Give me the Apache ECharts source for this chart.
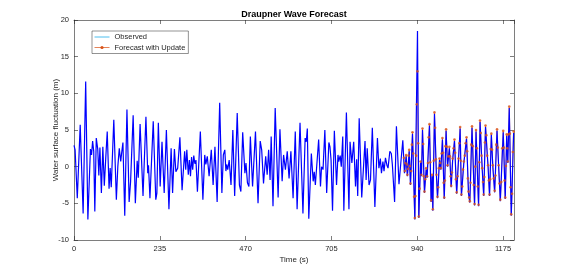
<!DOCTYPE html>
<html><head><meta charset="utf-8">
<script src="https://cdn.jsdelivr.net/npm/echarts@6/dist/echarts.min.js"></script>
<style>html,body{margin:0;padding:0;background:#fff}#c{width:568px;height:270px}</style>
</head><body><div id="c"></div>
<script>
// ---- data (time s, surface elevation m) ----
const titleText = 'Draupner Wave Forecast';
const xName = 'Time (s)';
const yName = 'Water surface fluctuation (m)';
const seriesNames = ['Observed', 'Forecast with Update'];
const xTickValues = [0, 235, 470, 705, 940, 1175];
const yTickValues = [-10, -5, 0, 5, 10, 15, 20];

const observed = [
[0,2.9],[3,2.3],[9,-4.3],[17,5.7],[25,-6.4],[32,11.6],[38,-7.2],[45,2.4],[48,1.6],[51,3.5],[54,2.1],[57,-6.1],[61,3.9],[65,2.4],[68,-1.2],[71,2.6],[75,-3.6],[79,2.7],[83,-2.6],[87,1.2],[91,4.8],[96,-3.0],[99,-0.2],[102,-2.8],[109,6.4],[116,-4.5],[120,0.0],[124,2.5],[128,0.7],[131,2.1],[134,3.3],[139,-6.7],[145,7.8],[151,-4.8],[155,-2.0],[162,7.0],[168,-5.0],[173,0.8],[176,-1.5],[181,5.8],[189,-4.0],[197,6.8],
[202,-0.9],[204,0.2],[208,-4.3],[217,6.2],[224,-4.5],[227,-3.6],[231,6.0],[236,-2.7],[241,3.4],[247,-3.6],[253,5.0],[260,-5.8],[266,2.5],[270,-3.6],[275,2.4],[279,-0.7],[284,-0.2],[290,4.0],[296,-3.2],[303,2.1],[306,-0.4],[309,2.3],[313,-1.1],[316,0.9],[319,-1.3],[322,1.3],[325,-0.4],[328,1.5],[331,0.4],[334,0.9],[338,-3.4],[346,4.8],[353,-4.5],[358,1.6],[361,0.3],[365,1.4],[370,-1.3],[376,2.3],[381,-2.5],[386,2.7],[392,-4.8],[399,8.7],[405,-3.6],
[409,1.6],[413,2.3],[416,-0.6],[418,0.3],[421,-0.4],[425,0.9],[430,-2.5],[435,5.0],[440,-4.0],[447,7.3],[453,-2.5],[457,-3.4],[462,4.7],[468,-0.9],[471,0.5],[475,-2.2],[479,-2.7],[483,4.1],[489,-2.7],[497,4.8],[504,-5.0],[510,3.5],[514,2.3],[519,-2.3],[525,1.4],[529,-1.1],[533,2.3],[537,-1.8],[540,4.1],[545,-5.4],[551,8.0],[559,-4.2],[564,5.1],[570,-2.0],[574,1.6],[579,-0.4],[584,2.1],[589,-1.6],[594,2.1],[600,-4.3],[606,4.8],
[611,-5.8],[619,6.0],[627,-6.4],[633,3.9],[636,3.4],[639,5.2],[643,-7.1],[650,1.8],[655,-2.0],[658,-0.7],[661,-2.5],[670,3.7],[675,-2.7],[678,0.0],[682,-0.4],[687,5.0],[692,-3.6],[698,3.3],[701,2.7],[704,0.9],[708,-6.0],[713,4.9],[719,-2.5],[723,1.6],[725,0.7],[729,1.5],[732,0.0],[736,4.1],[739,-6.0],[746,7.4],[753,-5.8],[756,3.4],[761,0.5],[766,3.4],[771,-2.7],[774,1.0],[777,-4.0],[781,6.6],[788,-4.2],[797,3.5],[800,-1.8],[803,2.5],[808,-2.5],
[812,-1.8],[817,5.3],[824,-5.5],[831,3.9],[835,-0.2],[839,1.1],[842,-0.9],[846,0.7],[849,-0.6],[853,1.2],[857,0.2],[860,-0.2],[865,2.1],[869,1.8],[872,0.2],[878,-4.8],[883,5.5],[890,-2.4],[895,0.5],[900.5,3.6],[905,-0.9],
[909.6,1.4],[913,-1.3],[918,2.1],[921.5,-2.5],[927,4.5],[933.4,-7.2],[940.7,18.5],[944.3,-7.0],[949,0.5],[951.6,-1.3],[954.4,5.0],[959.8,-3.6],[964.4,-0.4],[967,-1.5],[973.5,5.6],[978,-4.8],[980.8,-1.3],[982.7,-6.0],[987.2,7.2],[992.7,-1.3],[995.5,-4.3],[1001,0.9],[1004.6,-0.4],[1009,3.7],[1014,-4.4],[1019,4.9],[1023,0.0],[1028,2.5],[1033,-2.8],[1037,0.9],[1042,3.5],[1048,-3.7],[1053,0.9],[1057.5,5.2],[1061,-4.0],[1067.6,0.5],[1075,3.8],[1080.4,-3.6],[1084,-4.9],[1090,5.3],[1097,-5.3],[1101,4.8],[1108,-5.4],[1112,6.1],[1118,-0.4],[1122,-4.0],[1127,5.4],[1134,0.0],[1138,-4.0],[1143,4.3],[1147,0.0],[1152,-3.5],[1158.5,4.9],[1163,0.0],[1167.5,-4.7],[1175.5,4.7],[1181,-4.4],[1185,4.2],[1188,0.5],[1192,8.0],[1197.5,-6.7],[1204,4.6]
];

const forecast = [
[903.5,1.2],[906,-0.6],[907.8,0.5],[909.6,1.6],[911.3,0.3],[913,-1.1],[914.7,-0.3],[916.3,1.5],[918,2.3],[919.8,0.1],[921.5,-2.3],[923.3,-0.6],[925.2,3.0],[927,4.7],[929.1,1.8],[931.3,-4.1],[933.4,-7.0],
[935.2,-4.0],[937.0,1.5],[938.9,8.5],[940.7,13.0],[942.5,3.2],[944.3,-6.8],[946.6,-3.0],[949,0.7],[951.6,-1.1],[954.4,5.2],[956.2,3.1],[958.0,-1.3],[959.8,-3.4],[962.1,-1.7],[964.4,-0.2],[967,-1.3],
[969.2,0.5],[971.3,4.0],[973.5,5.8],[975.7,0.6],[978,-4.6],[980.8,-1.1],[982.7,-5.8],[985.0,0.8],[987.2,7.4],[989.0,5.3],[990.9,1.0],[992.7,-1.1],[995.5,-4.1],[997.3,-2.8],[999.2,-0.2],[1001,1.1],
[1002.8,0.5],[1004.6,-0.2],[1006.8,1.8],[1009,3.9],[1010.7,1.9],[1012.3,-2.2],[1014,-4.2],[1015.7,-1.9],[1017.3,2.8],[1019,5.1],[1021,2.7],[1023,0.2],[1025.5,1.4],[1028,2.7],[1029.7,1.4],[1031.3,-1.3],[1033,-2.6],
[1035,-0.8],[1037,1.1],[1039.5,2.5],[1042,3.7],[1044,1.9],[1046,-1.7],[1048,-3.5],[1050.5,-1.3],[1053,1.1],[1055.2,3.2],[1057.5,5.4],[1059.2,0.8],[1061,-3.8],[1063.2,-2.7],[1065.4,-0.4],[1067.6,0.7],
[1070.1,1.5],[1072.5,3.2],[1075,4.0],[1076.8,2.1],[1078.6,-1.6],[1080.4,-3.4],[1082.2,-4.2],[1084,-4.7],[1086,-2.2],[1088,3.0],[1090,5.5],[1092.3,2.8],[1094.7,-2.5],[1097,-5.1],[1099,0.0],[1101,5.0],
[1103.3,2.5],[1105.7,-2.7],[1108,-5.2],[1110,0.6],[1112,6.3],[1114,4.6],[1116,1.5],[1118,-0.2],[1120,-2.1],[1122,-3.8],[1123.7,-1.4],[1125.3,3.3],[1127,5.6],[1129.3,4.3],[1131.7,1.5],[1134,0.2],
[1136,-1.9],[1138,-3.8],[1139.7,-1.7],[1141.3,2.4],[1143,4.5],[1145,2.3],[1147,0.2],[1149.5,-1.6],[1152,-3.3],[1154.2,-1.2],[1156.3,3.0],[1158.5,5.1],[1160.7,2.6],[1163,0.2],[1165.2,-2.3],[1167.5,-4.5],
[1170.2,-2.1],[1172.8,2.5],[1175.5,4.9],[1177.3,2.6],[1179.2,-1.9],[1181,-4.2],[1183,0.1],[1185,4.4],[1186.5,2.5],[1188,0.7],[1190,4.4],[1192,8.2],[1193.8,4.5],[1195.7,-2.8],[1197.5,-6.5],[1199.7,-3.7],[1201.8,2.0],[1204,4.8]
];

// ---- styling ----
const FONT = '"Liberation Sans", Arial, Helvetica, sans-serif';
const AX = '#262626';
const BLUE = '#0000FF', ORANGE = '#D95319', LEGEND_BLUE = '#4DBEEE';
const X_MIN = 0, X_MAX = 1205, X_INT = 235;
const Y_MIN = -10, Y_MAX = 20, Y_INT = 5;

const baseX = {
  type: 'value', min: X_MIN, max: X_MAX, interval: X_INT,
  axisLine: { show: true, onZero: false, lineStyle: { color: AX, width: 0.6 } },
  axisTick: { show: true, inside: true, length: 4, lineStyle: { color: AX, width: 0.6 } },
  splitLine: { show: false }
};
const baseY = {
  type: 'value', min: Y_MIN, max: Y_MAX, interval: Y_INT,
  axisLine: { show: true, onZero: false, lineStyle: { color: AX, width: 0.6 } },
  axisTick: { show: true, inside: true, length: 4, lineStyle: { color: AX, width: 0.6 } },
  splitLine: { show: false }
};

const chart = echarts.init(document.getElementById('c'), null, { renderer: 'canvas' });
chart.setOption({
  animation: false,
  backgroundColor: '#fff',
  graphic: [{
    type: 'text', x: 294, y: 15, silent: true,
    style: { text: titleText, align: 'center', verticalAlign: 'middle',
      fontFamily: FONT, fontSize: 9, fontWeight: 'bold', fill: '#000' }
  }],
  grid: { left: 74, right: 54, top: 20, bottom: 30, containLabel: false },
  legend: {
    orient: 'vertical', left: 92, top: 31,
    padding: [2, 3, 2, 2], itemWidth: 15, itemHeight: 4, itemGap: 2.5,
    backgroundColor: '#fff', borderColor: AX, borderWidth: 0.5,
    textStyle: { fontFamily: FONT, fontSize: 7.5, color: AX },
    data: [
      { name: seriesNames[0], itemStyle: { color: 'rgba(0,0,0,0)', opacity: 0 }, lineStyle: { color: LEGEND_BLUE, width: 1 } },
      { name: seriesNames[1], itemStyle: { color: ORANGE }, lineStyle: { color: ORANGE, width: 0.8 } }
    ]
  },
  xAxis: [
    Object.assign({}, baseX, {
      position: 'bottom',
      axisLabel: { show: true, margin: 5, fontFamily: FONT, fontSize: 7.5, color: AX, showMaxLabel: false,
        formatter: v => (xTickValues.indexOf(v) >= 0 ? String(v) : '') },
      name: xName, nameLocation: 'middle', nameGap: 16, nameMoveOverlap: false,
      nameTextStyle: { fontFamily: FONT, fontSize: 8, color: AX }
    }),
    Object.assign({}, baseX, { position: 'top', axisLabel: { show: false } })
  ],
  yAxis: [
    Object.assign({}, baseY, {
      position: 'left',
      axisLabel: { show: true, margin: 5, fontFamily: FONT, fontSize: 7.5, color: AX,
        formatter: v => (yTickValues.indexOf(v) >= 0 ? String(v) : '') },
      name: yName, nameLocation: 'middle', nameGap: 14, nameRotate: 90, nameMoveOverlap: false,
      nameTextStyle: { fontFamily: FONT, fontSize: 8, color: AX }
    }),
    Object.assign({}, baseY, { position: 'right', axisLabel: { show: false } })
  ],
  series: [
    {
      name: seriesNames[1], type: 'line', xAxisIndex: 0, yAxisIndex: 0,
      data: forecast, symbol: 'none', showSymbol: false,
      lineStyle: { color: ORANGE, width: 0.6, opacity: 0.9 }, itemStyle: { color: ORANGE },
      z: 1
    },
    {
      name: seriesNames[0], type: 'line', xAxisIndex: 0, yAxisIndex: 0,
      data: observed, symbol: 'none', showSymbol: false,
      lineStyle: { color: BLUE, width: 1.2 }, itemStyle: { color: BLUE },
      z: 2
    },
    {
      name: 'forecast-markers', type: 'scatter', xAxisIndex: 0, yAxisIndex: 0,
      data: forecast, symbol: 'circle', symbolSize: 2.6,
      itemStyle: { color: ORANGE }, z: 3
    }
  ]
});
</script>
</body></html>
